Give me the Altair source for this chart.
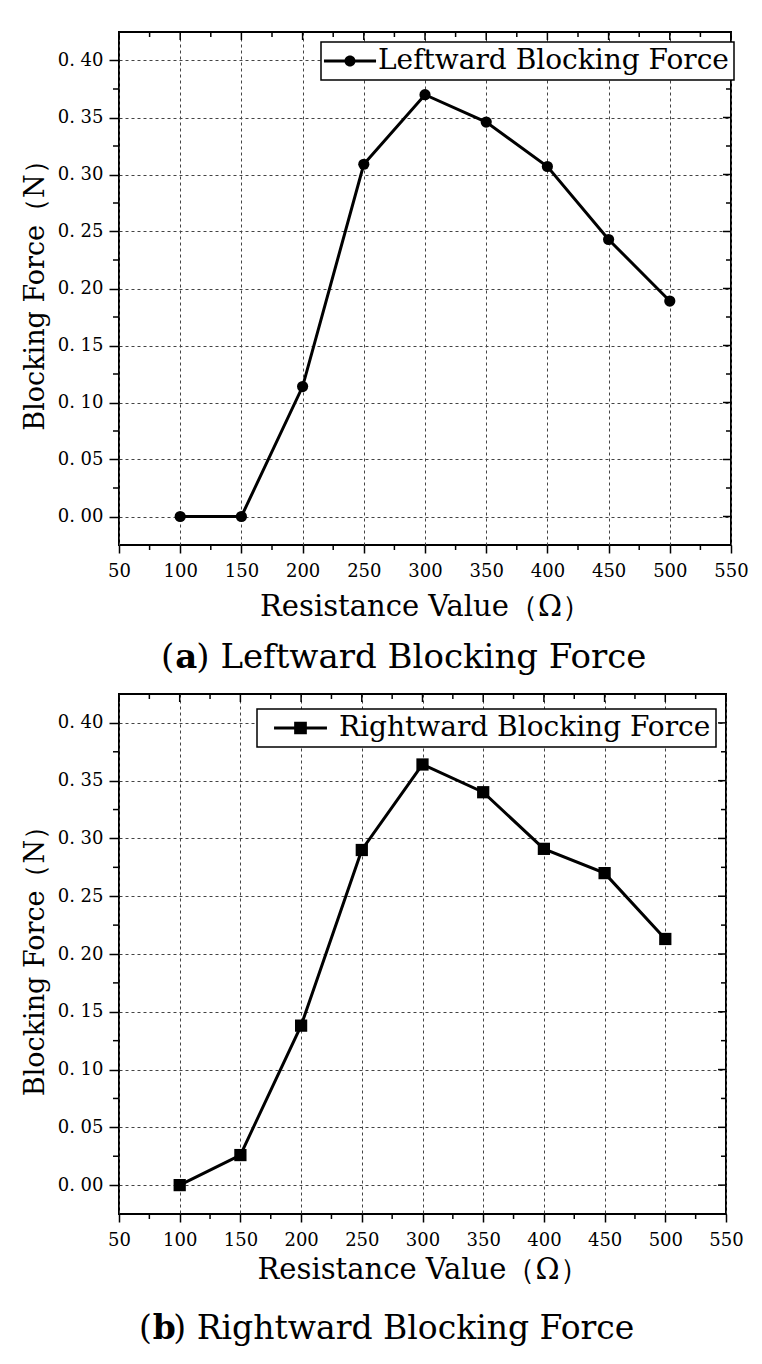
import altair as alt
import pandas as pd

# Measured blocking force (N) at each series resistance (ohm)
resistance = [100, 150, 200, 250, 300, 350, 400, 450, 500]
leftward_force = [0.000, 0.000, 0.114, 0.309, 0.370, 0.346, 0.307, 0.243, 0.189]
rightward_force = [0.000, 0.026, 0.138, 0.290, 0.364, 0.340, 0.291, 0.270, 0.213]

# Axis tick positions
x_major = [50, 100, 150, 200, 250, 300, 350, 400, 450, 500, 550]
x_minor = [75, 125, 175, 225, 275, 325, 375, 425, 475, 525]
y_major = [0.00, 0.05, 0.10, 0.15, 0.20, 0.25, 0.30, 0.35, 0.40]
y_minor = [0.025, 0.075, 0.125, 0.175, 0.225, 0.275, 0.325, 0.375]

x_domain = [50, 550]
y_domain = [-0.025, 0.425]

x_title = "Resistance Value（Ω）"
y_title = "Blocking Force（N）"

AXIS_FONT = "DejaVu Serif"
CAPTION_FONT = "DejaVu Serif"

# legend glyphs: a short line with the marker in the middle
CIRCLE_KEY = ("M-2.17,-0.12H2.17V0.12H-2.17Z "
              "M0.46,0A0.46,0.46,0,1,1,-0.46,0A0.46,0.46,0,1,1,0.46,0Z")
SQUARE_KEY = ("M-1.96,-0.11H1.96V0.11H-1.96Z "
              "M-0.47,-0.47H0.47V0.47H-0.47Z")


def panel(values, series, marker, key_path, key_size, sym_offset, lab_offset,
          leg_x, leg_y, letter, caption, width, height, cap_y, cap_x0, cap_size,
          x_title_pad):
    df = pd.DataFrame({"r": resistance, "f": values, "series": series})
    xs = alt.Scale(domain=x_domain, nice=False, zero=False)
    ys = alt.Scale(domain=y_domain, nice=False, zero=False)

    x_axis = alt.Axis(
        values=x_major, format="d", grid=True, domain=False,
        tickSize=8, tickWidth=1.5, tickColor="black",
        labelFont=AXIS_FONT, labelFontSize=18, labelColor="black", labelPadding=9,
        labelFlush=False, title=x_title, titleFont=AXIS_FONT, titleFontSize=29,
        titleFontWeight="normal", titleColor="black", titlePadding=x_title_pad,
        gridDash=[3, 3], gridColor="#444", gridWidth=1,
    )
    y_axis = alt.Axis(
        values=y_major, grid=True, domain=False,
        labelExpr="replace(format(datum.value, '.2f'), '.', '. ')",
        tickSize=10, tickWidth=1.5, tickColor="black",
        labelFont=AXIS_FONT, labelFontSize=18, labelColor="black", labelPadding=6,
        labelFlush=False, title=y_title, titleFont=AXIS_FONT, titleFontSize=27,
        titleFontWeight="normal", titleColor="black", titlePadding=8,
        gridDash=[3, 3], gridColor="#444", gridWidth=1,
    )

    base = alt.Chart(df)
    line = base.mark_line(strokeWidth=3).encode(
        x=alt.X("r:Q", scale=xs, axis=x_axis),
        y=alt.Y("f:Q", scale=ys, axis=y_axis),
        color=alt.Color(
            "series:N", scale=alt.Scale(range=["black"]),
            legend=alt.Legend(
                title=None, orient="none", legendX=leg_x, legendY=leg_y,
                padding=5, strokeColor="black", fillColor="white",
                symbolType=key_path, symbolSize=key_size, symbolStrokeWidth=0,
                symbolFillColor="black", symbolStrokeColor="black",
                symbolOffset=sym_offset, labelOffset=lab_offset,
                labelFont=AXIS_FONT, labelFontSize=28, labelColor="black", labelLimit=0,
            ),
        ),
    )
    pts = base.mark_point(filled=True, opacity=1, shape=marker, color="black",
                          size=150 if marker == "square" else 125).encode(
        x=alt.X("r:Q", scale=xs),
        y=alt.Y("f:Q", scale=ys),
    )

    xmaj = alt.Chart(pd.DataFrame({"r": x_major}))
    xmin = alt.Chart(pd.DataFrame({"r": x_minor}))
    ymaj = alt.Chart(pd.DataFrame({"f": y_major}))
    ymin = alt.Chart(pd.DataFrame({"f": y_minor}))
    tick = dict(color="black", strokeWidth=1.5)
    xv = alt.X("r:Q", scale=xs)
    yv = alt.Y("f:Q", scale=ys)

    ticks = [
        # minor ticks outside the left and bottom frame
        xmin.mark_rule(**tick).encode(x=xv, y=alt.value(height), y2=alt.value(height + 5)),
        ymin.mark_rule(**tick).encode(y=yv, x=alt.value(0), x2=alt.value(-6)),
        # mirrored ticks inside the top and right frame
        xmaj.mark_rule(**tick).encode(x=xv, y=alt.value(0), y2=alt.value(8)),
        xmin.mark_rule(**tick).encode(x=xv, y=alt.value(0), y2=alt.value(5)),
        ymaj.mark_rule(**tick).encode(y=yv, x=alt.value(width), x2=alt.value(width - 8)),
        ymin.mark_rule(**tick).encode(y=yv, x=alt.value(width), x2=alt.value(width - 5)),
    ]

    cap = alt.Chart(pd.DataFrame({"t": [caption]}))
    paren_w = 0.39 * cap_size + 1
    letter_w = 0.62 * cap_size
    text_style = dict(font=CAPTION_FONT, fontSize=cap_size, align="left",
                      baseline="alphabetic", color="black")
    caption_marks = [
        cap.mark_text(text="(", **text_style).encode(
            x=alt.value(cap_x0), y=alt.value(cap_y)),
        cap.mark_text(text=letter, fontWeight="bold", **text_style).encode(
            x=alt.value(cap_x0 + paren_w), y=alt.value(cap_y)),
        cap.mark_text(**text_style).encode(
            text="t:N", x=alt.value(cap_x0 + paren_w + letter_w), y=alt.value(cap_y)),
    ]

    return alt.layer(line, *ticks, pts, *caption_marks).properties(width=width, height=height)


top = panel(leftward_force, "Leftward Blocking Force", "circle", CIRCLE_KEY, 576,
            10, 14, 202, 10, "a", ") Leftward Blocking Force", 612, 513, 636, 42, 34, 12)
bottom = panel(rightward_force, "Rightward Blocking Force", "square", SQUARE_KEY, 729,
               24.5, 24.5, 138, 15, "b", ") Rightward Blocking Force", 607, 520, 645, 20, 33, 6)

chart = alt.vconcat(top, bottom, spacing=16).resolve_scale(color="independent").properties(
    padding={"left": 20, "top": 30, "right": 10, "bottom": 10}
).configure_view(stroke="black", strokeWidth=2).configure_legend(strokeWidth=1.5)

chart.save("out.html", embed_options={"renderer": "svg", "actions": False})
